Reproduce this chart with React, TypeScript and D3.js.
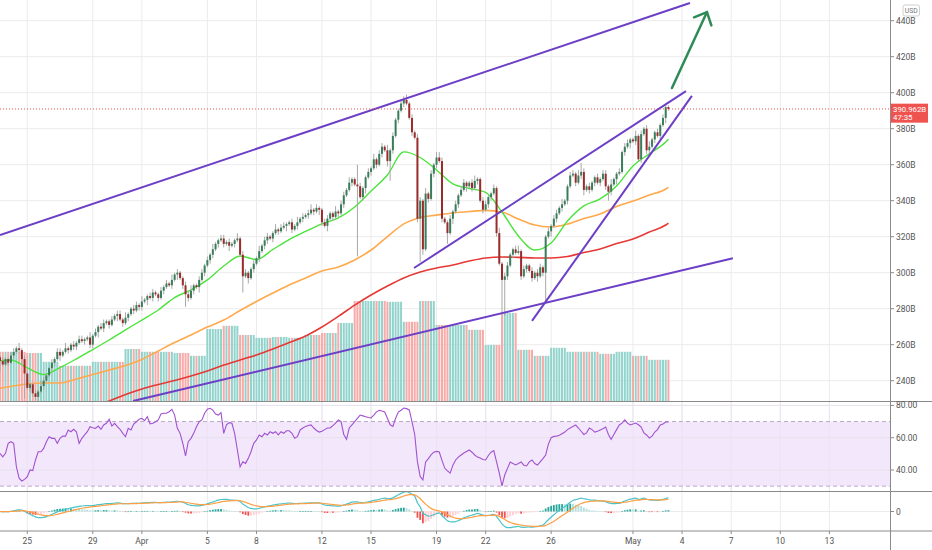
import React from 'react';
import * as d3 from 'd3';

// 4h candles of total market cap (billions USD), first candle Mar 23 08:00 UTC
const HOUR = 3600 * 1000;
const DAY = 24 * HOUR;
const firstCandle = Date.UTC(2018, 2, 23, 8);
const firstDay = Date.UTC(2018, 2, 23);

const firstOpen = 253;
const closes = [
  251, 249, 252, 250, 254, 256, 258, 257, 252, 244,
  236, 238, 233, 231, 234, 237, 240, 243, 247, 250,
  252, 256, 254, 256, 258, 257, 260, 259, 261, 263,
  262, 263, 264, 260, 265, 267, 270, 269, 272, 273,
  271, 274, 276, 277, 274, 272, 275, 277, 280, 279,
  282, 281, 284, 285, 287, 286, 289, 288, 286, 290,
  292, 294, 293, 296, 299, 300, 297, 293, 288, 286,
  290, 293, 292, 296, 300, 304, 307, 310, 313, 316,
  318, 319, 316, 317, 315, 316, 318, 319, 310, 298,
  300, 297, 302, 305, 308, 312, 315, 318, 320, 319,
  322, 324, 323, 325, 326, 327, 328, 324, 326, 328,
  330, 331, 332, 333, 335, 334, 336, 335, 328, 326,
  330, 333, 331, 334, 333, 338, 343, 346, 350, 352,
  349, 348, 342, 347, 353, 356, 358, 363, 360, 366,
  370, 368, 362, 368, 376, 385, 390, 394, 396, 394,
  386, 378, 375, 330, 340, 313, 344, 341, 355, 360,
  364, 362, 330, 328, 322, 330, 334, 338, 343, 346,
  350, 348, 350, 347, 351, 352, 340, 335, 338, 342,
  344, 347, 322, 305, 296, 298, 304, 310, 313, 311,
  312, 298, 302, 304, 301, 297, 300, 298, 303, 300,
  320, 323, 326, 330, 333, 336, 338, 340, 348, 354,
  355, 350, 354, 356, 346, 348, 346, 350, 353, 350,
  352, 355, 348, 345, 349, 352, 355, 356, 367, 370,
  372, 374, 373, 376, 363, 377, 380, 368, 370, 374,
  378, 376, 382, 386, 392, 390.962,
];

// wick lengths above / below the body, one digit per candle
const upperWicks =
  '1211221312 2112132112 1221311212 2113121221 1212213112 2131122112 1213121122 3112212131 ' +
  '1221211312 2112131221 1312211213 1212312112 2113122131 1221121312 2131211223 1212213121 ' +
  '1321121212 2112311221 1213122112 3121121221 1212213112 2131212112 1221311212 2113121231 1212211213';
const lowerWicks =
  '2112121231 1221312112 2131121221 1212213121 2113121212 1221312121 2112131212 1213121221 ' +
  '2121312112 1312121221 2121131212 1212121321 3121212112 1212312121 2131212121 1212131212 ' +
  '2121213121 1312121212 2121312121 1212121312 2131212121 1212312121 2121213112 1312121221 2121312121';

// long wicks [candle index, price]
const lowSpikes = [
  [0, 245], [9, 230], [13, 229], [68, 281], [89, 289], [131, 309], [143, 351], [154, 306],
  [155, 310], [164, 316], [184, 277], [185, 276], [200, 284], [223, 340],
];
const highSpikes = [[131, 360], [148, 398], [160, 367], [213, 361], [245, 393]];

// daily volume from Mar 23 to May 3
const dailyVolume = [
  12.3, 12.3, 12, 9.8, 8.8, 8.8, 9.8, 9.8, 13, 12.3, 12.3, 12, 11.3, 18, 18.8, 16.5, 15.8, 16,
  15.8, 16.5, 17, 19.5, 25, 25, 24.8, 19.8, 25, 19, 19, 17.8, 14, 22, 12.8, 11.3, 13.3, 12.3,
  12.3, 11.8, 12.3, 11.3, 10.3, 10.3,
];

// moving averages, one value per day from Mar 23, last value at the last candle
const maFast = [
  250.9, 251.5, 247.1, 243.4, 247.3, 252.1, 257.3, 262.6, 268.2, 273.7, 279.3, 286.2, 290.4, 296,
  303.7, 309.3, 307.3, 312.9, 318.4, 322.9, 327.1, 330.4, 336.5, 345.4, 354.3, 367.1, 364, 357.1,
  349.3, 346.8, 344.6, 333.7, 320.4, 312.6, 316.5, 328.7, 337.1, 341, 348.2, 359.3, 366, 372.6, 374.2,
];
const maMid = [
  235.4, 236.8, 238.2, 238.7, 238.7, 241, 243.4, 245.9, 248.4, 251.8, 256.5, 261.2, 265.4, 269.8,
  273.7, 279, 284, 288.7, 293.2, 297.1, 301, 303.2, 307.1, 312.6, 320.1, 327.1, 330.7, 332, 333.2,
  334, 334.6, 333.7, 329.8, 326.5, 325.4, 327, 330.1, 332.6, 336.8, 339.8, 343.2, 346.5, 347.6,
];
const maSlow = [
  null, null, null, null, null, null,
  225.4, 228.7, 232.3, 235.4, 237.9, 240.1, 242.6, 245.4, 248.7, 251.5, 254.3, 257.6, 261.2, 264.8,
  269.8, 275.7, 282, 287.6, 292.6, 297.1, 300.4, 302.6, 304.3, 306.5, 308.2, 308.7, 308.5, 308.2,
  308.2, 309, 311.2, 313.2, 316.2, 318.7, 322.6, 326.5, 327.6,
];

// RSI(14), one value per candle
const rsiValues = [
  50.3, 48.2, 50.3, 56.5, 57.5, 56.5, 42, 34.9, 33.2, 34.2, 35.9, 40, 39.6, 46.2, 51.3, 51.3, 53.4,
  57.5, 60.6, 59.6, 59.6, 56.5, 59.6, 61, 61, 64.8, 63.7, 65.2, 63.7, 56.5, 59.6, 61.7, 63.7, 66.8,
  66.2, 65.8, 67.2, 65.2, 67.9, 68.9, 71.4, 67.2, 68.9, 66.8, 65.2, 62.7, 60.6, 65.8, 64.8, 68.5,
  69.9, 71.4, 72, 70.5, 73, 68.5, 68.9, 69.9, 71, 74.7, 75.1, 75.1, 76.1, 77.6, 74, 65.8, 62.7,
  56.5, 48.7, 57.5, 59.6, 62.7, 66.8, 69.9, 71, 75.1, 77.6, 78.2, 77.1, 74.7, 74, 75.5, 62.7, 67.9,
  69.3, 68.9, 62.7, 52.4, 42, 45.1, 44.1, 47.2, 51.3, 56.5, 58.6, 61.7, 60.6, 62.7, 61.7, 63.7,
  62.7, 63.7, 61.7, 63.7, 62.7, 64.3, 64.3, 62.7, 59.6, 60.6,
  64.8, 66, 67, 67.5, 67.9, 66, 64.5, 63.5, 64, 65, 66, 66, 67.5, 69, 71, 70, 62, 59, 66, 68,
  70, 72, 74, 73.5, 73, 72.5, 72.2, 74, 76, 77, 76.5, 75.9, 72, 68, 67, 72, 75.9, 77, 78.4, 78,
  77.2, 70, 62, 45, 36, 33.8, 45, 47, 49.3, 51, 51.5, 51.1, 46, 41.2, 39.5, 38.1, 43, 46.2, 48,
  49.3, 50.5, 51.5, 52.4, 51, 49.3, 48, 47.4, 46.5, 46.2, 49, 51, 52, 45, 38, 30.1, 36.9, 41, 45,
  44, 43.1, 44, 45, 43, 42.5, 45, 46.2, 44, 43.1, 45, 47, 49.3, 56, 60, 60.8, 61, 61.5, 62.5,
  63.5, 65, 66, 67, 67.9, 66, 64, 62, 63, 66, 65, 63.5, 64, 64.8, 65.5, 66.6, 62, 59, 62, 65,
  67.9, 69, 71, 69, 67.9, 68.5, 69.1, 68, 66.6, 63, 61.7, 59.8, 61, 63.5, 65, 67.9, 68.5, 69.7, 69.7,
];

// drawn trend lines: [time, price] endpoints
const trendLines = [
  [['2018-03-23T08:00Z', 320.9], ['2018-05-04T11:30Z', 449.8]],
  [['2018-03-31T11:00Z', 228.7], ['2018-05-07T02:30Z', 308]],
  [['2018-04-17T15:00Z', 302.6], ['2018-05-04T05:45Z', 400.9]],
  [['2018-04-24T20:00Z', 273.2], ['2018-05-04T14:24Z', 398.2]],
];
const arrowLine = [['2018-05-03T09:10Z', 402.6], ['2018-05-05T12:30Z', 444.8]];

const dateTicks = [
  '2018-03-25', '2018-03-29', '2018-04-01', '2018-04-05', '2018-04-08', '2018-04-12', '2018-04-15',
  '2018-04-19', '2018-04-22', '2018-04-26', '2018-05-01', '2018-05-04', '2018-05-07', '2018-05-10',
  '2018-05-13',
];
const dateLabels = ['25', '29', 'Apr', '5', '8', '12', '15', '19', '22', '26', 'May', '4', '7', '10', '13'];
const priceTicks = [240, 260, 280, 300, 320, 340, 360, 380, 400, 420, 440];
const rsiTicks = [40, 60, 80];
const countdown = '47:35';

const AXIS_X = 890;
const MAIN_BOTTOM = 401.5;
const RSI_BOTTOM = 491.5;
const MACD_BOTTOM = 531;
const FONT = 'Roboto, "Liberation Sans", sans-serif';

function ema(values: number[], n: number) {
  const k = 2 / (n + 1);
  const out: number[] = [];
  values.forEach((v, i) => out.push(i === 0 ? v : v * k + out[i - 1] * (1 - k)));
  return out;
}

export default function App() {
  const x = d3
    .scaleUtc()
    .domain([new Date(Date.UTC(2018, 2, 25)), new Date(Date.UTC(2018, 4, 13))])
    .range([27.3, 829.4]);
  const y = d3.scaleLinear().domain([240, 440]).range([380.7, 20.7]);
  const yVol = d3.scaleLinear().domain([0, 25]).range([401, 301]);
  const yRsi = d3.scaleLinear().domain([40, 80]).range([470, 405.4]);
  const yMacd = d3.scaleLinear().domain([-10, 10]).range([525.5, 497.5]);

  const up = upperWicks.replace(/\s/g, '').split('').map(Number);
  const dn = lowerWicks.replace(/\s/g, '').split('').map(Number);

  const candles = closes.map((c, i) => {
    const o = i === 0 ? firstOpen : closes[i - 1];
    return {
      t: new Date(firstCandle + i * 4 * HOUR),
      o,
      c,
      h: Math.max(o, c) + up[i],
      l: Math.min(o, c) - dn[i],
      vol: dailyVolume[Math.floor((8 + 4 * i) / 24)],
    };
  });
  lowSpikes.forEach(([i, v]) => (candles[i].l = Math.min(candles[i].l, v)));
  highSpikes.forEach(([i, v]) => (candles[i].h = Math.max(candles[i].h, v)));

  const last = candles[candles.length - 1];
  const lastTime = last.t.getTime();
  const maTime = (k: number) => new Date(k < 42 ? firstDay + k * DAY : lastTime);

  const maLine = d3
    .line<number | null>()
    .defined((d) => d != null)
    .x((_, k) => x(maTime(k)))
    .y((d) => y(d as number))
    .curve(d3.curveMonotoneX);

  const rsiLine = d3
    .line<number>()
    .x((_, i) => x(candles[i].t))
    .y((d) => yRsi(d));

  // MACD(12, 26, 9) from the closes
  const fast = ema(closes, 12);
  const slow = ema(closes, 26);
  const macd = fast.map((v, i) => v - slow[i]);
  const signal = ema(macd, 9);
  const hist = macd.map((v, i) => v - signal[i]);
  const macdLine = d3
    .line<number>()
    .x((_, i) => x(candles[i].t))
    .y((d) => yMacd(d))
    .curve(d3.curveMonotoneX);

  const pt = (p: (string | number)[]) => [x(new Date(p[0] as string)), y(p[1] as number)];
  const [a0, a1] = arrowLine.map(pt);
  const ang = Math.atan2(a1[1] - a0[1], a1[0] - a0[0]) + Math.PI;
  const head = [ang - 0.75, ang + 0.75].map((a) => [a1[0] + 14 * Math.cos(a), a1[1] + 14 * Math.sin(a)]);

  const tickDates = dateTicks.map((s) => new Date(s + 'T00:00:00Z'));
  const yLast = y(last.c);
  const grid = '#ececec';
  const axisText = '#555';

  return (
    <svg
      width={932}
      height={550}
      viewBox="0 0 932 550"
      style={{ position: 'absolute', left: 0, top: 0, background: '#fff' }}
      fontFamily={FONT}
    >
      <defs>
        <clipPath id="main">
          <rect x={0} y={0} width={AXIS_X} height={MAIN_BOTTOM} />
        </clipPath>
        <clipPath id="rsi">
          <rect x={0} y={MAIN_BOTTOM} width={AXIS_X} height={RSI_BOTTOM - MAIN_BOTTOM} />
        </clipPath>
        <clipPath id="macd">
          <rect x={0} y={RSI_BOTTOM} width={AXIS_X} height={MACD_BOTTOM - RSI_BOTTOM} />
        </clipPath>
      </defs>
      <rect x={0} y={0} width={932} height={550} fill="#fff" />

      {/* grid */}
      {tickDates.map((d, i) => (
        <line key={'vg' + i} x1={x(d)} x2={x(d)} y1={0} y2={MACD_BOTTOM} stroke={grid} />
      ))}
      {priceTicks.map((v) => (
        <line key={'hg' + v} x1={0} x2={AXIS_X} y1={y(v)} y2={y(v)} stroke={grid} />
      ))}

      {/* main pane */}
      <g clipPath="url(#main)">
        {candles.map((d, i) => (
          <rect
            key={'v' + i}
            x={x(d.t) - 1}
            width={2}
            y={yVol(d.vol)}
            height={yVol(0) - yVol(d.vol)}
            fill={d.c >= d.o ? '#92d3cc' : '#f7aaa8'}
          />
        ))}
        <path d={maLine(maSlow) || ''} fill="none" stroke="#e53935" strokeWidth={1.6} />
        <path d={maLine(maMid) || ''} fill="none" stroke="#ffa94d" strokeWidth={1.6} />
        <path d={maLine(maFast) || ''} fill="none" stroke="#4be33c" strokeWidth={1.4} />
        {candles.map((d, i) => {
          const cx = x(d.t);
          const top = y(Math.max(d.o, d.c));
          const bot = y(Math.min(d.o, d.c));
          return (
            <g key={'c' + i}>
              <line x1={cx} x2={cx} y1={y(d.h)} y2={y(d.l)} stroke="#a8a8a8" strokeWidth={1} />
              <rect
                x={cx - 1}
                width={2}
                y={top}
                height={Math.max(1, bot - top)}
                fill={d.c >= d.o ? '#3a7d5a' : '#9b2b2b'}
              />
            </g>
          );
        })}
        {trendLines.map((l, i) => {
          const [p, q] = l.map(pt);
          return <line key={'tl' + i} x1={p[0]} y1={p[1]} x2={q[0]} y2={q[1]} stroke="#6c3fc6" strokeWidth={2} />;
        })}
        <line x1={0} x2={AXIS_X} y1={yLast} y2={yLast} stroke="#ef5350" strokeDasharray="1 2" strokeWidth={1} />
      </g>
      <g stroke="#2e8b57" strokeWidth={2.5} fill="none" strokeLinecap="round">
        <line x1={a0[0]} y1={a0[1]} x2={a1[0]} y2={a1[1]} />
        <polyline points={`${head[0].join(',')} ${a1.join(',')} ${head[1].join(',')}`} />
      </g>

      {/* RSI pane */}
      <g clipPath="url(#rsi)">
        <rect x={0} y={yRsi(70)} width={AXIS_X} height={yRsi(30) - yRsi(70)} fill="#f3e7fb" />
        {rsiTicks.map((v) => (
          <line key={'rg' + v} x1={0} x2={AXIS_X} y1={yRsi(v)} y2={yRsi(v)} stroke="#e6e0ec" />
        ))}
        {tickDates.map((d, i) => (
          <line key={'rv' + i} x1={x(d)} x2={x(d)} y1={MAIN_BOTTOM} y2={RSI_BOTTOM} stroke="#ebe3f2" />
        ))}
        {[70, 30].map((v) => (
          <line key={'rb' + v} x1={0} x2={AXIS_X} y1={yRsi(v)} y2={yRsi(v)} stroke="#b9aac6" strokeDasharray="4 3" />
        ))}
        <path d={rsiLine(rsiValues) || ''} fill="none" stroke="#a052cf" strokeWidth={1.1} />
      </g>

      {/* MACD pane */}
      <g clipPath="url(#macd)">
        <line x1={0} x2={AXIS_X} y1={yMacd(0)} y2={yMacd(0)} stroke={grid} />
        {hist.map((h, i) => {
          const prev = i > 0 ? hist[i - 1] : h;
          const color = h >= 0 ? (h >= prev ? '#26a69a' : '#b2dfdb') : h < prev ? '#ef5350' : '#ffcdd2';
          const cx = x(candles[i].t);
          return (
            <rect
              key={'h' + i}
              x={cx - 0.9}
              width={1.8}
              y={Math.min(yMacd(h), yMacd(0))}
              height={Math.max(0.6, Math.abs(yMacd(h) - yMacd(0)))}
              fill={color}
            />
          );
        })}
        <path d={macdLine(macd) || ''} fill="none" stroke="#4cc3c9" strokeWidth={1.2} />
        <path d={macdLine(signal) || ''} fill="none" stroke="#ff9f43" strokeWidth={1.2} />
      </g>

      {/* pane borders and axes */}
      <line x1={0} x2={932} y1={MAIN_BOTTOM} y2={MAIN_BOTTOM} stroke="#8a8a8a" />
      <line x1={0} x2={932} y1={RSI_BOTTOM} y2={RSI_BOTTOM} stroke="#8a8a8a" />
      <line x1={0} x2={932} y1={MACD_BOTTOM} y2={MACD_BOTTOM} stroke="#8a8a8a" />
      <line x1={AXIS_X + 0.5} x2={AXIS_X + 0.5} y1={0} y2={550} stroke="#8a8a8a" />

      <g fontSize={8.5} fill={axisText}>
        {priceTicks.map((v) => (
          <g key={'pt' + v}>
            <line x1={AXIS_X} x2={AXIS_X + 4} y1={y(v)} y2={y(v)} stroke="#8a8a8a" />
            <text x={AXIS_X + 6} y={y(v) + 3}>{`${v}B`}</text>
          </g>
        ))}
        {rsiTicks.map((v) => (
          <g key={'rt' + v}>
            <line x1={AXIS_X} x2={AXIS_X + 4} y1={yRsi(v)} y2={yRsi(v)} stroke="#8a8a8a" />
            <text x={AXIS_X + 6} y={yRsi(v) + 3}>{v.toFixed(2)}</text>
          </g>
        ))}
        <line x1={AXIS_X} x2={AXIS_X + 4} y1={yMacd(0)} y2={yMacd(0)} stroke="#8a8a8a" />
        <text x={AXIS_X + 6} y={yMacd(0) + 3}>0</text>
        {tickDates.map((d, i) => (
          <g key={'dt' + i}>
            <line x1={x(d)} x2={x(d)} y1={MACD_BOTTOM} y2={MACD_BOTTOM + 3} stroke="#8a8a8a" />
            <text x={x(d)} y={544} textAnchor="middle">
              {dateLabels[i]}
            </text>
          </g>
        ))}
      </g>

      {/* last price label */}
      <rect x={AXIS_X + 1} y={yLast - 5.3} width={37} height={19} fill="#ef5350" />
      <g fill="#fff" fontSize={7.8}>
        <text x={AXIS_X + 3} y={yLast + 3}>{`${d3.format('.3f')(last.c)}B`}</text>
        <text x={AXIS_X + 3} y={yLast + 11}>{countdown}</text>
      </g>

      <rect x={903} y={5} width={16.5} height={11} rx={2} fill="#fff" stroke="#cfcfcf" />
      <text x={911.2} y={13.2} fontSize={6.8} fill="#777" textAnchor="middle">
        USD
      </text>
    </svg>
  );
}
